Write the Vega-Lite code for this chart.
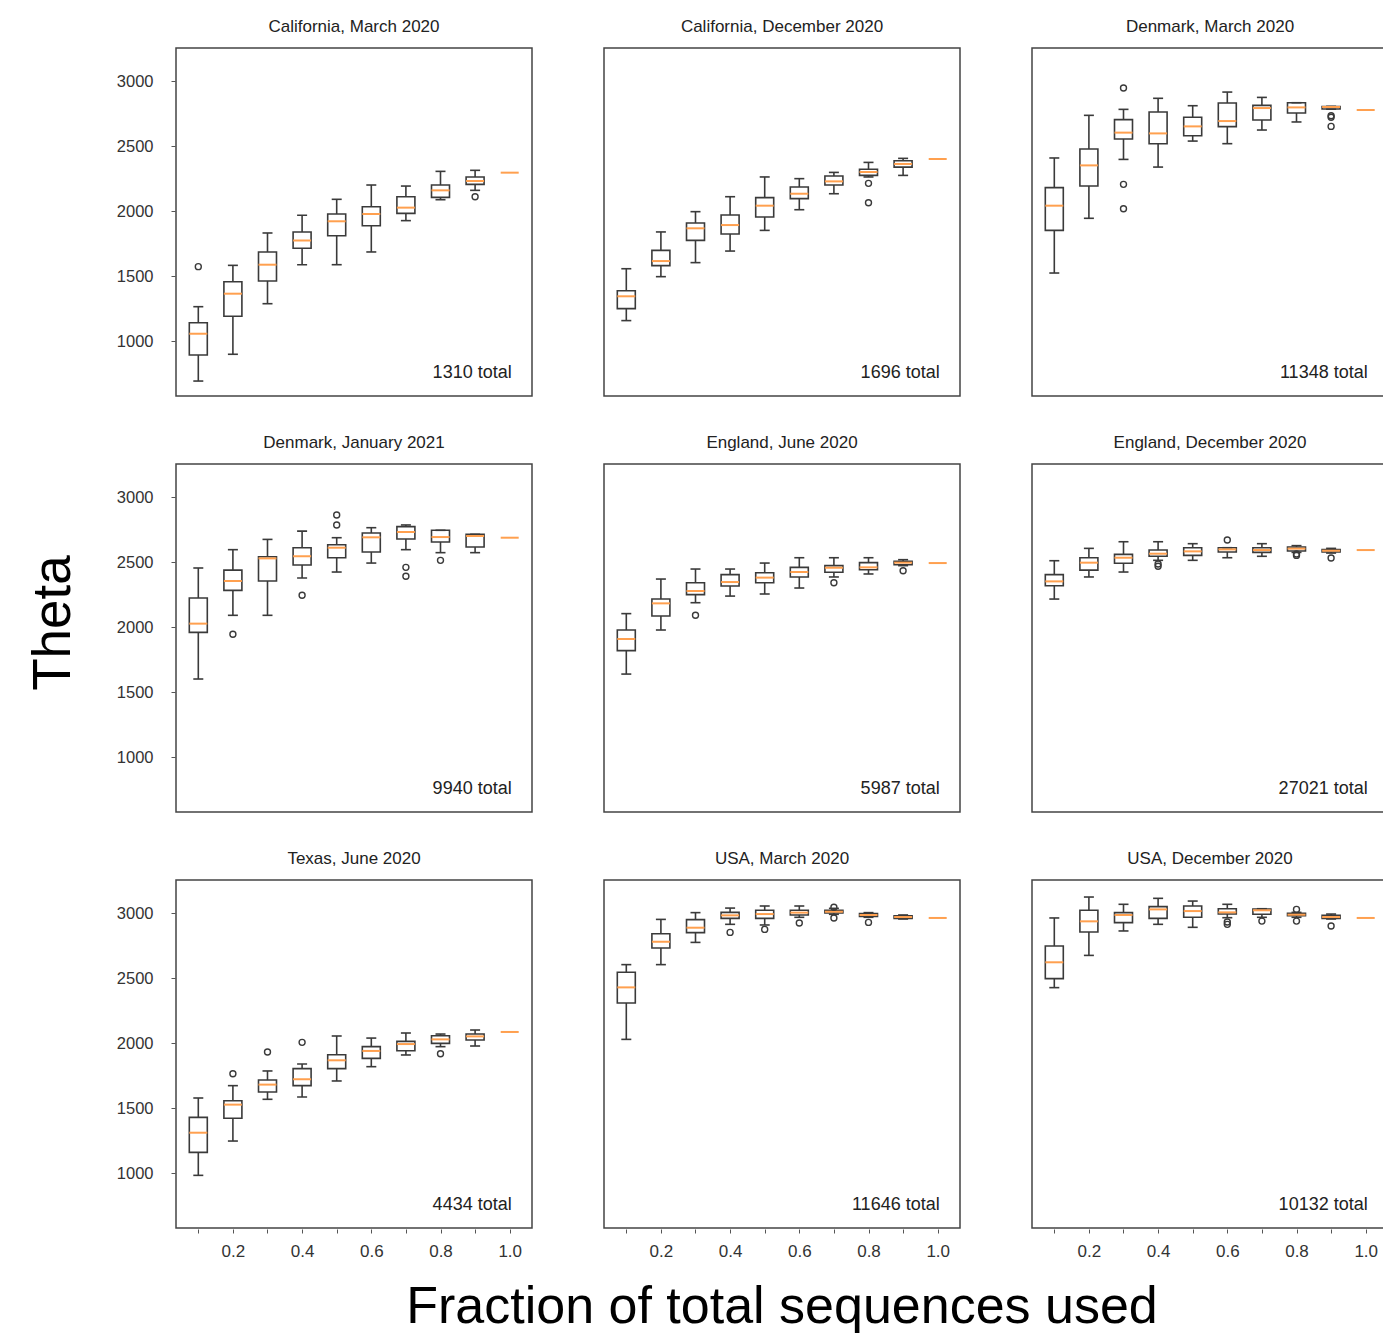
{
  "$schema": "https://vega.github.io/schema/vega-lite/v6.json",
  "background": "white",
  "padding": {"left": 28, "top": 17, "right": 0, "bottom": 0},
  "data": {"values": [
    {"r":1,"c":1,"title":"California, March 2020","total":"1310 total"},
    {"r":1,"c":2,"title":"California, December 2020","total":"1696 total"},
    {"r":1,"c":3,"title":"Denmark, March 2020","total":"11348 total"},
    {"r":2,"c":1,"title":"Denmark, January 2021","total":"9940 total"},
    {"r":2,"c":2,"title":"England,  June 2020","total":"5987 total"},
    {"r":2,"c":3,"title":"England, December 2020","total":"27021 total"},
    {"r":3,"c":1,"title":"Texas,  June 2020","total":"4434 total"},
    {"r":3,"c":2,"title":"USA, March 2020","total":"11646 total"},
    {"r":3,"c":3,"title":"USA, December 2020","total":"10132 total"},

    {"r":1,"c":1,"frac":0.1,"lo":692,"q1":892,"med":1056,"q3":1141,"hi":1264},
    {"r":1,"c":1,"frac":0.2,"lo":898,"q1":1190,"med":1364,"q3":1456,"hi":1582},
    {"r":1,"c":1,"frac":0.3,"lo":1287,"q1":1462,"med":1587,"q3":1685,"hi":1831},
    {"r":1,"c":1,"frac":0.4,"lo":1587,"q1":1713,"med":1774,"q3":1839,"hi":1967},
    {"r":1,"c":1,"frac":0.5,"lo":1587,"q1":1810,"med":1921,"q3":1977,"hi":2090},
    {"r":1,"c":1,"frac":0.6,"lo":1685,"q1":1887,"med":1977,"q3":2033,"hi":2200},
    {"r":1,"c":1,"frac":0.7,"lo":1926,"q1":1982,"med":2026,"q3":2110,"hi":2192},
    {"r":1,"c":1,"frac":0.8,"lo":2087,"q1":2105,"med":2159,"q3":2200,"hi":2305},
    {"r":1,"c":1,"frac":0.9,"lo":2159,"q1":2205,"med":2231,"q3":2262,"hi":2313},
    {"r":1,"c":1,"frac":1.0,"med":2295},
    {"r":1,"c":1,"frac":0.1,"out":1572},
    {"r":1,"c":1,"frac":0.9,"out":2110},

    {"r":1,"c":2,"frac":0.1,"lo":1157,"q1":1249,"med":1344,"q3":1387,"hi":1556},
    {"r":1,"c":2,"frac":0.2,"lo":1495,"q1":1580,"med":1615,"q3":1697,"hi":1839},
    {"r":1,"c":2,"frac":0.3,"lo":1603,"q1":1774,"med":1867,"q3":1908,"hi":1995},
    {"r":1,"c":2,"frac":0.4,"lo":1692,"q1":1823,"med":1892,"q3":1969,"hi":2110},
    {"r":1,"c":2,"frac":0.5,"lo":1851,"q1":1954,"med":2041,"q3":2103,"hi":2262},
    {"r":1,"c":2,"frac":0.6,"lo":2010,"q1":2095,"med":2133,"q3":2185,"hi":2249},
    {"r":1,"c":2,"frac":0.7,"lo":2133,"q1":2200,"med":2228,"q3":2269,"hi":2297},
    {"r":1,"c":2,"frac":0.8,"lo":2262,"q1":2274,"med":2300,"q3":2321,"hi":2374},
    {"r":1,"c":2,"frac":0.9,"lo":2274,"q1":2338,"med":2362,"q3":2387,"hi":2405},
    {"r":1,"c":2,"frac":1.0,"med":2400},
    {"r":1,"c":2,"frac":0.8,"out":2213},
    {"r":1,"c":2,"frac":0.8,"out":2064},

    {"r":1,"c":3,"frac":0.1,"lo":1523,"q1":1851,"med":2041,"q3":2180,"hi":2408},
    {"r":1,"c":3,"frac":0.2,"lo":1944,"q1":2192,"med":2351,"q3":2477,"hi":2736},
    {"r":1,"c":3,"frac":0.3,"lo":2397,"q1":2554,"med":2603,"q3":2703,"hi":2782},
    {"r":1,"c":3,"frac":0.4,"lo":2338,"q1":2518,"med":2597,"q3":2762,"hi":2867},
    {"r":1,"c":3,"frac":0.5,"lo":2538,"q1":2579,"med":2651,"q3":2721,"hi":2810},
    {"r":1,"c":3,"frac":0.6,"lo":2518,"q1":2649,"med":2692,"q3":2831,"hi":2915},
    {"r":1,"c":3,"frac":0.7,"lo":2623,"q1":2700,"med":2792,"q3":2813,"hi":2874},
    {"r":1,"c":3,"frac":0.8,"lo":2685,"q1":2754,"med":2797,"q3":2833,"hi":2833},
    {"r":1,"c":3,"frac":0.9,"lo":2783,"q1":2785,"med":2800,"q3":2803,"hi":2805},
    {"r":1,"c":3,"frac":1.0,"med":2777},
    {"r":1,"c":3,"frac":0.3,"out":2946},
    {"r":1,"c":3,"frac":0.3,"out":2205},
    {"r":1,"c":3,"frac":0.3,"out":2018},
    {"r":1,"c":3,"frac":0.9,"out":2733},
    {"r":1,"c":3,"frac":0.9,"out":2721},
    {"r":1,"c":3,"frac":0.9,"out":2651},

    {"r":2,"c":1,"frac":0.1,"lo":1600,"q1":1959,"med":2026,"q3":2223,"hi":2454},
    {"r":2,"c":1,"frac":0.2,"lo":2090,"q1":2282,"med":2354,"q3":2438,"hi":2595},
    {"r":2,"c":1,"frac":0.3,"lo":2090,"q1":2354,"med":2528,"q3":2541,"hi":2674},
    {"r":2,"c":1,"frac":0.4,"lo":2377,"q1":2477,"med":2544,"q3":2610,"hi":2738},
    {"r":2,"c":1,"frac":0.5,"lo":2423,"q1":2533,"med":2610,"q3":2633,"hi":2687},
    {"r":2,"c":1,"frac":0.6,"lo":2492,"q1":2577,"med":2690,"q3":2723,"hi":2764},
    {"r":2,"c":1,"frac":0.7,"lo":2595,"q1":2677,"med":2731,"q3":2772,"hi":2785},
    {"r":2,"c":1,"frac":0.8,"lo":2572,"q1":2654,"med":2692,"q3":2744,"hi":2744},
    {"r":2,"c":1,"frac":0.9,"lo":2572,"q1":2615,"med":2700,"q3":2713,"hi":2713},
    {"r":2,"c":1,"frac":1.0,"med":2687},
    {"r":2,"c":1,"frac":0.2,"out":1944},
    {"r":2,"c":1,"frac":0.4,"out":2244},
    {"r":2,"c":1,"frac":0.5,"out":2785},
    {"r":2,"c":1,"frac":0.5,"out":2862},
    {"r":2,"c":1,"frac":0.7,"out":2459},
    {"r":2,"c":1,"frac":0.7,"out":2390},
    {"r":2,"c":1,"frac":0.8,"out":2513},

    {"r":2,"c":2,"frac":0.1,"lo":1638,"q1":1818,"med":1908,"q3":1977,"hi":2103},
    {"r":2,"c":2,"frac":0.2,"lo":1977,"q1":2085,"med":2182,"q3":2215,"hi":2369},
    {"r":2,"c":2,"frac":0.3,"lo":2187,"q1":2249,"med":2277,"q3":2341,"hi":2446},
    {"r":2,"c":2,"frac":0.4,"lo":2238,"q1":2315,"med":2346,"q3":2403,"hi":2446},
    {"r":2,"c":2,"frac":0.5,"lo":2254,"q1":2341,"med":2380,"q3":2418,"hi":2492},
    {"r":2,"c":2,"frac":0.6,"lo":2300,"q1":2385,"med":2423,"q3":2459,"hi":2533},
    {"r":2,"c":2,"frac":0.7,"lo":2385,"q1":2421,"med":2456,"q3":2472,"hi":2533},
    {"r":2,"c":2,"frac":0.8,"lo":2408,"q1":2441,"med":2459,"q3":2495,"hi":2533},
    {"r":2,"c":2,"frac":0.9,"lo":2472,"q1":2479,"med":2495,"q3":2505,"hi":2518},
    {"r":2,"c":2,"frac":1.0,"med":2492},
    {"r":2,"c":2,"frac":0.3,"out":2090},
    {"r":2,"c":2,"frac":0.7,"out":2341},
    {"r":2,"c":2,"frac":0.9,"out":2433},

    {"r":2,"c":3,"frac":0.1,"lo":2215,"q1":2318,"med":2351,"q3":2403,"hi":2510},
    {"r":2,"c":3,"frac":0.2,"lo":2385,"q1":2438,"med":2495,"q3":2533,"hi":2605},
    {"r":2,"c":3,"frac":0.3,"lo":2423,"q1":2490,"med":2533,"q3":2559,"hi":2656},
    {"r":2,"c":3,"frac":0.4,"lo":2513,"q1":2544,"med":2564,"q3":2592,"hi":2656},
    {"r":2,"c":3,"frac":0.5,"lo":2513,"q1":2551,"med":2582,"q3":2610,"hi":2641},
    {"r":2,"c":3,"frac":0.6,"lo":2533,"q1":2577,"med":2597,"q3":2610,"hi":2610},
    {"r":2,"c":3,"frac":0.7,"lo":2544,"q1":2574,"med":2592,"q3":2610,"hi":2641},
    {"r":2,"c":3,"frac":0.8,"lo":2574,"q1":2585,"med":2603,"q3":2615,"hi":2626},
    {"r":2,"c":3,"frac":0.9,"lo":2569,"q1":2577,"med":2587,"q3":2595,"hi":2605},
    {"r":2,"c":3,"frac":1.0,"med":2592},
    {"r":2,"c":3,"frac":0.4,"out":2485},
    {"r":2,"c":3,"frac":0.4,"out":2467},
    {"r":2,"c":3,"frac":0.6,"out":2669},
    {"r":2,"c":3,"frac":0.8,"out":2551},
    {"r":2,"c":3,"frac":0.8,"out":2562},
    {"r":2,"c":3,"frac":0.9,"out":2531},

    {"r":3,"c":1,"frac":0.1,"lo":982,"q1":1159,"med":1310,"q3":1428,"hi":1577},
    {"r":3,"c":1,"frac":0.2,"lo":1246,"q1":1421,"med":1526,"q3":1556,"hi":1672},
    {"r":3,"c":1,"frac":0.3,"lo":1567,"q1":1623,"med":1680,"q3":1715,"hi":1785},
    {"r":3,"c":1,"frac":0.4,"lo":1585,"q1":1672,"med":1721,"q3":1803,"hi":1838},
    {"r":3,"c":1,"frac":0.5,"lo":1708,"q1":1803,"med":1867,"q3":1910,"hi":2054},
    {"r":3,"c":1,"frac":0.6,"lo":1818,"q1":1882,"med":1939,"q3":1972,"hi":2038},
    {"r":3,"c":1,"frac":0.7,"lo":1908,"q1":1941,"med":1992,"q3":2013,"hi":2077},
    {"r":3,"c":1,"frac":0.8,"lo":1972,"q1":1997,"med":2028,"q3":2056,"hi":2069},
    {"r":3,"c":1,"frac":0.9,"lo":1977,"q1":2023,"med":2051,"q3":2069,"hi":2100},
    {"r":3,"c":1,"frac":1.0,"med":2085},
    {"r":3,"c":1,"frac":0.2,"out":1764},
    {"r":3,"c":1,"frac":0.3,"out":1931},
    {"r":3,"c":1,"frac":0.4,"out":2005},
    {"r":3,"c":1,"frac":0.8,"out":1918},

    {"r":3,"c":2,"frac":0.1,"lo":2028,"q1":2308,"med":2428,"q3":2544,"hi":2603},
    {"r":3,"c":2,"frac":0.2,"lo":2603,"q1":2731,"med":2779,"q3":2841,"hi":2951},
    {"r":3,"c":2,"frac":0.3,"lo":2774,"q1":2849,"med":2887,"q3":2949,"hi":3003},
    {"r":3,"c":2,"frac":0.4,"lo":2913,"q1":2959,"med":2982,"q3":3005,"hi":3038},
    {"r":3,"c":2,"frac":0.5,"lo":2908,"q1":2959,"med":2992,"q3":3021,"hi":3054},
    {"r":3,"c":2,"frac":0.6,"lo":2967,"q1":2985,"med":3003,"q3":3021,"hi":3054},
    {"r":3,"c":2,"frac":0.7,"lo":2990,"q1":3000,"med":3010,"q3":3021,"hi":3036},
    {"r":3,"c":2,"frac":0.8,"lo":2967,"q1":2974,"med":2985,"q3":2995,"hi":3003},
    {"r":3,"c":2,"frac":0.9,"lo":2954,"q1":2959,"med":2969,"q3":2979,"hi":2985},
    {"r":3,"c":2,"frac":1.0,"med":2962},
    {"r":3,"c":2,"frac":0.4,"out":2851},
    {"r":3,"c":2,"frac":0.5,"out":2874},
    {"r":3,"c":2,"frac":0.6,"out":2923},
    {"r":3,"c":2,"frac":0.7,"out":3044},
    {"r":3,"c":2,"frac":0.7,"out":2962},
    {"r":3,"c":2,"frac":0.8,"out":2928},

    {"r":3,"c":3,"frac":0.1,"lo":2426,"q1":2495,"med":2621,"q3":2746,"hi":2962},
    {"r":3,"c":3,"frac":0.2,"lo":2674,"q1":2854,"med":2936,"q3":3021,"hi":3123},
    {"r":3,"c":3,"frac":0.3,"lo":2862,"q1":2926,"med":2985,"q3":3003,"hi":3067},
    {"r":3,"c":3,"frac":0.4,"lo":2913,"q1":2959,"med":3028,"q3":3049,"hi":3113},
    {"r":3,"c":3,"frac":0.5,"lo":2890,"q1":2967,"med":3015,"q3":3054,"hi":3092},
    {"r":3,"c":3,"frac":0.6,"lo":2964,"q1":2992,"med":3005,"q3":3033,"hi":3067},
    {"r":3,"c":3,"frac":0.7,"lo":2967,"q1":2990,"med":3021,"q3":3031,"hi":3033},
    {"r":3,"c":3,"frac":0.8,"lo":2967,"q1":2979,"med":2987,"q3":2997,"hi":3005},
    {"r":3,"c":3,"frac":0.9,"lo":2954,"q1":2959,"med":2969,"q3":2982,"hi":2992},
    {"r":3,"c":3,"frac":1.0,"med":2962},
    {"r":3,"c":3,"frac":0.6,"out":2931},
    {"r":3,"c":3,"frac":0.6,"out":2913},
    {"r":3,"c":3,"frac":0.7,"out":2938},
    {"r":3,"c":3,"frac":0.8,"out":3028},
    {"r":3,"c":3,"frac":0.8,"out":2938},
    {"r":3,"c":3,"frac":0.9,"out":2900}
  ]},
  "facet": {
    "row": {"field": "r", "type": "ordinal", "title": "Theta",
      "header": {"labels": false, "titleFontSize": 53, "titleFont": "Liberation Sans", "titleFontWeight": "normal", "titleColor": "black", "titlePadding": 25}},
    "column": {"field": "c", "type": "ordinal", "title": "Fraction of total sequences used",
      "header": {"labels": false, "titleOrient": "bottom", "labelOrient": "bottom", "titleFontSize": 52, "titleFont": "Liberation Sans", "titleFontWeight": "normal", "titleColor": "black", "titlePadding": 13}}
  },
  "spacing": {"row": 36, "column": 70},
  "spec": {
    "width": 356,
    "height": 348,
    "layer": [
      {"transform": [{"filter": "isValid(datum.lo)"}],
       "mark": {"type": "rule", "color": "#3a3a3a", "strokeWidth": 1.6},
       "encoding": {
        "x": {"field": "frac", "type": "quantitative", "scale": {"domain": [0.05, 1.05], "nice": false, "zero": false}},
        "y": {"field": "lo", "type": "quantitative", "scale": {"domain": [577, 3254], "nice": false, "zero": false}},
        "y2": {"field": "hi"}}},
      {"transform": [{"filter": "isValid(datum.q1)"}],
       "mark": {"type": "bar", "width": 18, "fill": "white", "stroke": "#3a3a3a", "strokeWidth": 1.6},
       "encoding": {"x": {"field": "frac", "type": "quantitative"}, "y": {"field": "q1", "type": "quantitative"}, "y2": {"field": "q3"}}},
      {"transform": [{"filter": "isValid(datum.lo)"}],
       "mark": {"type": "tick", "orient": "horizontal", "size": 10, "thickness": 1.6, "color": "#3a3a3a", "opacity": 1},
       "encoding": {"x": {"field": "frac", "type": "quantitative"}, "y": {"field": "lo", "type": "quantitative"}}},
      {"transform": [{"filter": "isValid(datum.hi)"}],
       "mark": {"type": "tick", "orient": "horizontal", "size": 10, "thickness": 1.6, "color": "#3a3a3a", "opacity": 1},
       "encoding": {"x": {"field": "frac", "type": "quantitative"}, "y": {"field": "hi", "type": "quantitative"}}},
      {"transform": [{"filter": "isValid(datum.med)"}],
       "mark": {"type": "tick", "orient": "horizontal", "size": 18, "thickness": 2, "color": "#ffa04f", "opacity": 1},
       "encoding": {"x": {"field": "frac", "type": "quantitative"}, "y": {"field": "med", "type": "quantitative"}}},
      {"transform": [{"filter": "isValid(datum.out)"}],
       "mark": {"type": "point", "shape": "circle", "filled": false, "size": 36, "stroke": "#3a3a3a", "strokeWidth": 1.4, "opacity": 1},
       "encoding": {"x": {"field": "frac", "type": "quantitative"}, "y": {"field": "out", "type": "quantitative"}}},
      {"transform": [{"filter": "isValid(datum.title)"}],
       "mark": {"type": "text", "align": "center", "baseline": "middle", "fontSize": 17, "font": "Liberation Sans", "color": "#222"},
       "encoding": {"x": {"datum": 0.55, "type": "quantitative"}, "y": {"datum": 3416, "type": "quantitative"}, "text": {"field": "title"}}},
      {"transform": [{"filter": "isValid(datum.total)"}],
       "mark": {"type": "text", "align": "right", "baseline": "middle", "fontSize": 18, "font": "Liberation Sans", "color": "#222", "dx": 2},
       "encoding": {"x": {"datum": 1.0, "type": "quantitative"}, "y": {"datum": 754, "type": "quantitative"}, "text": {"field": "total"}}}
    ]
  },
  "config": {
    "view": {"stroke": "#444", "strokeWidth": 1.5},
    "axisX": {"title": null, "grid": false, "domain": false, "tickSize": 4, "tickColor": "#555", "labelPadding": 10,
      "labelFontSize": 17, "labelFont": "Liberation Sans", "labelColor": "#333", "labelOverlap": false, "labelFlush": false,
      "tickCount": 10,
      "labelExpr": "round(datum.value*10) % 2 == 0 ? format(datum.value, '.1f') : ''"},
    "axisY": {"title": null, "grid": false, "domain": false, "tickSize": 4, "tickColor": "#555", "labelPadding": 18,
      "labelFontSize": 16.5, "labelFont": "Liberation Sans", "labelColor": "#333", "labelOverlap": false, "format": "d", "tickCount": 5}
  }
}
